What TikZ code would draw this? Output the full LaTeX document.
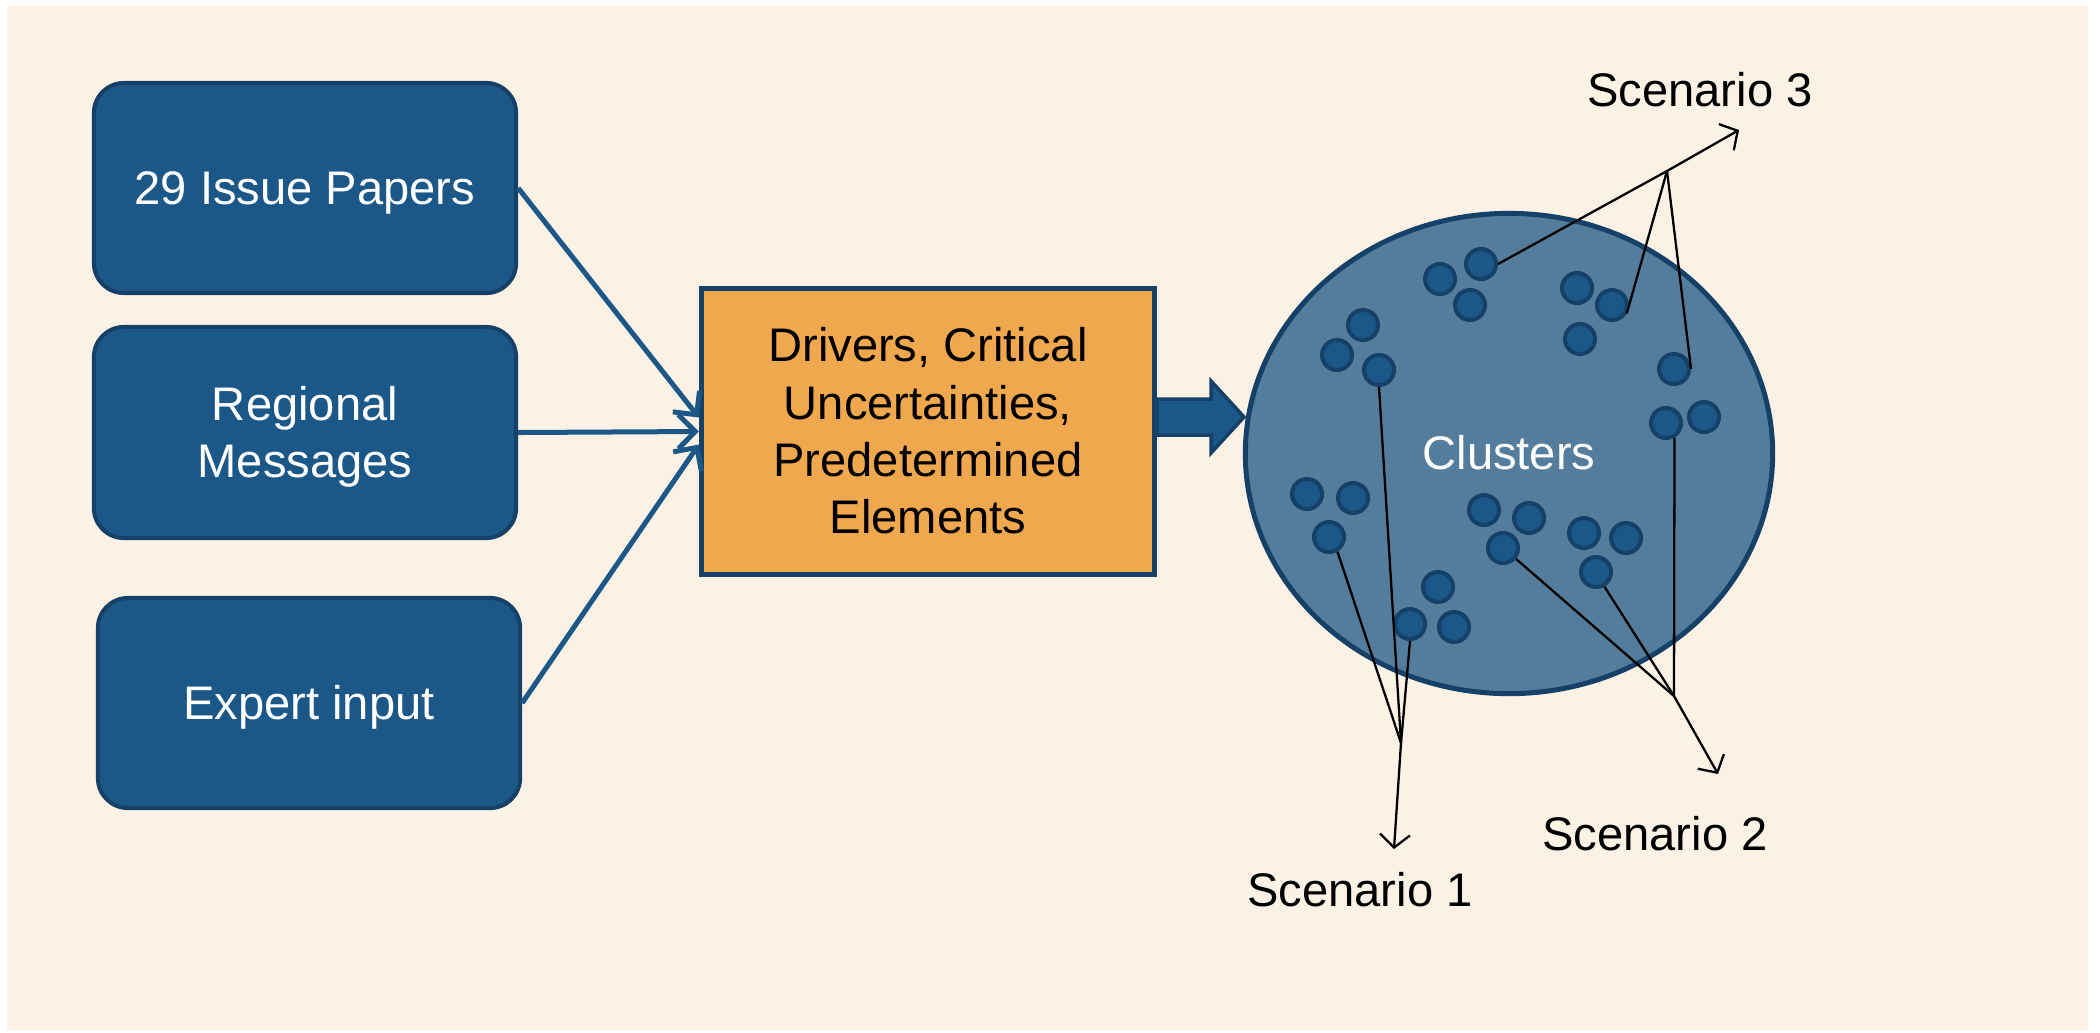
\documentclass[tikz,border=0pt]{standalone}
\usepackage{fontspec}
\setmainfont{Liberation Sans}
\usetikzlibrary{shapes.geometric,arrows.meta}
\definecolor{cream}{HTML}{FCF1E5}
\definecolor{boxblue}{HTML}{1B5887}
\definecolor{edgeblue}{HTML}{154168}
\definecolor{cloudblue}{HTML}{547D9D}
\definecolor{amber}{HTML}{EFA84E}
\newcommand\pptstrut{\rule[-0.21em]{0pt}{1.11em}}

\begin{document}
\begin{tikzpicture}[x=0.01cm,y=-0.01cm,
    every node/.style={font=\fontsize{13.4}{16.3}\selectfont},
    source/.style={draw=edgeblue,fill=boxblue,line width=0.04cm,rounded corners=0.3cm,
      minimum width=4.22cm,text=white,align=center,inner sep=0},
    feed/.style={draw=boxblue,line width=0.05cm,-{Straight Barb[length=0.17cm,width=0.34cm]}},
    dot/.style={circle,draw=edgeblue,fill=boxblue,line width=0.04cm,minimum size=0.3cm,inner sep=0},
    pick/.style={draw=black,line width=0.65pt},
    scen/.style={pick,-{Straight Barb[length=0.13cm,width=0.3cm]}}]
  \useasboundingbox (0,0) rectangle (2100,1032);
  \fill[cream] (7,6) rectangle (2088,1030);
  \node[source,minimum height=2.10cm] (papers)  at (305,188)   {\pptstrut 29 Issue Papers};
  \node[source,minimum height=2.11cm] (regions) at (305,432.5) {\pptstrut Regional\\Messages\pptstrut};
  \node[source,minimum height=2.10cm] (experts) at (309,703)   {\pptstrut Expert input};
  \node[draw=edgeblue,fill=amber,line width=0.05cm,minimum width=4.53cm,minimum height=2.86cm,
        align=center,inner sep=0] (drivers) at (928,431.5)
        {\pptstrut Drivers, Critical\\Uncertainties,\\Predetermined\\Elements\pptstrut};
  \node[ellipse,draw=edgeblue,fill=cloudblue,line width=0.05cm,minimum width=5.27cm,
        minimum height=4.80cm,text=white,inner sep=0] (clusters) at (1509,453.5) {\pptstrut Clusters};
  \draw[feed] (papers.east)  -- ([yshift=0.14cm]drivers.west);
  \draw[feed] (regions.east) -- (drivers.west);
  \draw[feed] (experts.east) -- ([yshift=-0.13cm]drivers.west);
  % fat arrow into the clusters
  \filldraw[fill=boxblue,draw=edgeblue,line width=0.035cm]
    (1157,399) -- (1211,399) -- (1211,381) -- (1244,417) -- (1211,453) -- (1211,435)
    -- (1157,435) -- cycle;
  \node[dot] (a1) at (1440,279) {};
  \node[dot] (a2) at (1481,264) {};
  \node[dot] (a3) at (1470,305) {};
  \node[dot] (b1) at (1363,325) {};
  \node[dot] (b2) at (1337,355) {};
  \node[dot] (b3) at (1379,370) {};
  \node[dot] (c1) at (1577,288) {};
  \node[dot] (c2) at (1612,305) {};
  \node[dot] (c3) at (1580,339) {};
  \node[dot] (d1) at (1674,369) {};
  \node[dot] (d2) at (1666,423) {};
  \node[dot] (d3) at (1704,417) {};
  \node[dot] (e1) at (1307,494) {};
  \node[dot] (e2) at (1353,498) {};
  \node[dot] (e3) at (1329,537) {};
  \node[dot] (f1) at (1484,510) {};
  \node[dot] (f2) at (1529,518) {};
  \node[dot] (f3) at (1503,548) {};
  \node[dot] (g1) at (1584,533) {};
  \node[dot] (g2) at (1626,538) {};
  \node[dot] (g3) at (1596,572) {};
  \node[dot] (h1) at (1438,587) {};
  \node[dot] (h2) at (1410,624) {};
  \node[dot] (h3) at (1454,627) {};
  \coordinate (fork1) at (1401,743);
  \coordinate (fork2) at (1674,696);
  \coordinate (fork3) at (1667,171);
  \coordinate (tip1)  at (1394,849);
  \coordinate (tip2)  at (1718,774);
  \coordinate (tip3)  at (1739,130);
  \node (scen1) at (1360,890) {\pptstrut Scenario 1};
  \node (scen2) at (1655,834) {\pptstrut Scenario 2};
  \node (scen3) at (1700,90)  {\pptstrut Scenario 3};
  \draw[pick] (b3.south) -- (fork1);
  \draw[pick] (e3.-60)   -- (fork1);
  \draw[pick] (h2.south) -- (fork1);
  \draw[scen] (fork1) -- (tip1);
  \draw[pick] (f3.-40)   -- (fork2);
  \draw[pick] (g3.-60)   -- (fork2);
  \draw[pick] (d2.-60)   -- (fork2);
  \draw[scen] (fork2) -- (tip2);
  \draw[pick] (a2.east)  -- (fork3);
  \draw[pick] (c2.-30)   -- (fork3);
  \draw[pick] (d1.east)  -- (fork3);
  \draw[scen] (fork3) -- (tip3);
\end{tikzpicture}
\end{document}
